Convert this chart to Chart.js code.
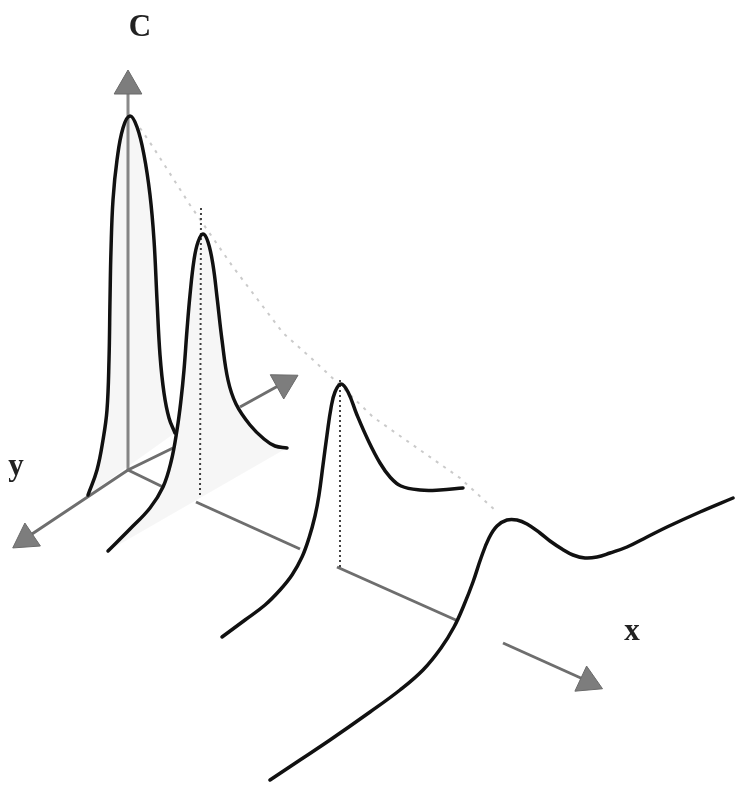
<!DOCTYPE html>
<html>
<head>
<meta charset="utf-8">
<script src="https://cdn.jsdelivr.net/npm/chart.js@4.4.1/dist/chart.umd.min.js"></script>
<style>
  body { margin: 0; background: #fff; }
  #wrap { position: relative; width: 735px; height: 786px; }
</style>
</head>
<body>
<div id="wrap"><canvas id="diagram" width="735" height="786"></canvas></div>
<script>
// Sketch coordinates (x to the right, y downward)
const peak1 = [[88,495],[97,470],[103,440],[107,410],[109,360],[110,300],[111,250],[113,200],[117,160],[123,128],[130,116],[137,127],[144,155],[150,195],[154,240],[157,300],[160,355],[164,393],[169,418],[175,433]]
const peak2 = [[108,551],[130,529],[150,508],[163,487],[171,462],[177,430],[181,400],[184,370],[187,330],[190,295],[194,260],[198,242],[203,234],[208,242],[213,265],[217,297],[222,340],[228,380],[236,404],[250,425],[264,439],[275,446],[287,448]]
const peak3 = [[222,637],[245,620],[265,605],[280,590],[292,575],[302,557],[309,538],[315,516],[319,495],[323,465],[327,435],[331,408],[335,392],[341,384],[348,392],[357,415],[368,440],[380,463],[390,477],[401,486],[420,490],[440,490],[463,488]]
const peak4 = [[270,780],[300,760],[330,740],[370,712],[400,690],[423,670],[441,648],[454,627],[464,605],[473,582],[481,558],[489,538],[497,526],[507,520],[517,520],[527,524],[540,533],[550,541],[562,549],[573,555],[585,558],[597,557],[610,553],[627,547],[647,537],[667,527],[700,512],[733,498]]
const envelope = [[140,128],[153,147],[190,205],[233,267],[258,300],[283,333],[310,357],[340,385],[373,417],[420,450],[460,478],[497,512]]
const stem2 = [[201,208],[200,497]]
const stem3 = [[340,380],[340,567]]
const cAxis = [[128,470],[128,92]]
const yAxisFront = [[32,534],[128,470],[173,448]]
const yAxisBack = [[240,407],[278,386]]
const xAxisParts = [[[128,470],[163,487]], [[196,502],[300,549]], [[337,567],[458,621]], [[503,643],[583,679]]]
const arrowTips = [[128,86],[26,539],[284,383],[588,682]]
const arrowAngles = [0, 236, 61, 115]
const labels = ['C', 'y', 'x']
const labelPos = [[140,28],[16,467],[632,632]]

const pts = (arr) => arr.map(([x, y]) => ({x: x, y: y}))

const curve = (data, order, shade) => ({
    type: 'line', data: pts(data), borderColor: '#111', borderWidth: 3.5,
    tension: 0.4, pointRadius: 0, order: order,
    fill: shade ? 'shape' : false, backgroundColor: 'rgba(0,0,0,0.035)',
    borderCapStyle: 'round', borderJoinStyle: 'round'
})
const guide = (data, color, width, dash, order) => ({
    type: 'line', data: pts(data), borderColor: color, borderWidth: width,
    borderDash: dash, tension: 0, pointRadius: 0, fill: false, order: order
})

const textLabels = {
    id: 'textLabels',
    afterDatasetsDraw(chart) {
        const ctx = chart.ctx
        const sx = chart.scales.x, sy = chart.scales.y
        ctx.save()
        ctx.fillStyle = '#222'
        ctx.font = 'bold 31px "Liberation Serif", "Times New Roman", serif'
        ctx.textAlign = 'center'
        ctx.textBaseline = 'middle'
        labels.forEach((t, i) => {
            ctx.fillText(t, sx.getPixelForValue(labelPos[i][0]), sy.getPixelForValue(labelPos[i][1]))
        })
        ctx.restore()
    }
}

let canvas = document.querySelector('canvas#diagram')
var chart = new Chart(canvas, {
    type: 'scatter',
    data: {
        datasets: [
            guide(envelope, 'rgba(150,150,150,0.5)', 2, [3, 6], 9),
            guide(cAxis, '#8a8a8a', 3, [], 8),
            guide(yAxisFront, '#6e6e6e', 3, [], 7),
            guide(yAxisBack, '#6e6e6e', 3, [], 7),
            ...xAxisParts.map((p) => guide(p, '#6e6e6e', 3, [], 7)),
            guide(stem2, '#444', 2, [2, 3], 6),
            guide(stem3, '#444', 2, [2, 3], 6),
            {
                type: 'scatter', data: pts(arrowTips), pointStyle: 'triangle',
                pointRadius: 16, pointRotation: arrowAngles,
                backgroundColor: '#7d7d7d', borderColor: '#6a6a6a', borderWidth: 1, order: 5
            },
            curve(peak1, 4, true),
            curve(peak2, 3, true),
            curve(peak3, 2, false),
            curve(peak4, 1, false)
        ]
    },
    options: {
        responsive: false,
        animation: false,
        layout: { padding: 0, autoPadding: false },
        plugins: { legend: { display: false }, tooltip: { enabled: false } },
        scales: {
            x: { type: 'linear', min: 0, max: 735, display: false },
            y: { type: 'linear', min: 0, max: 786, reverse: true, display: false }
        }
    },
    plugins: [textLabels]
})
</script>
</body>
</html>
